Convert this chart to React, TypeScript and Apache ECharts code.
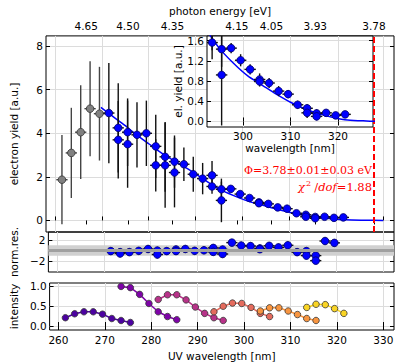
import React, { useEffect, useRef } from 'react';
import * as echarts from 'echarts';

// ---------- data ----------
const HC = 1240; // eV nm
const energyTicks = [4.65, 4.5, 4.35, 4.15, 4.05, 3.93, 3.78];
const workFunction = 3.78;
const wlTicks = [260, 270, 280, 290, 300, 310, 320, 330];
const yieldTicks = [0, 2, 4, 6, 8];
const resTicks = [-2, 0, 2];
const intTicks = [0, 0.5, 1.0];
const insetWlTicks = [300, 310, 320];
const insetYieldTicks = [0, 0.4, 0.8, 1.2, 1.6];

const excludedWl = [261.5, 263.5, 265.5, 267.5, 269.5];
const excludedYield = [1.87, 3.1, 4.05, 5.13, 4.9];
const excludedErr = [2.05, 2.07, 2.15, 2.18, 2.15];

const fittedWl = [271.5, 273.5, 273.5, 275.5, 275.5, 277.5, 279.5, 281.5, 281.5, 283.5, 283.5, 285.5, 285.5, 287.5, 289.5, 291.5, 293.5, 293.5, 295.5, 295.5, 297.5, 299.5, 301.5, 303.5, 303.5, 305.5, 307.5, 309.5, 311.5, 313.5, 313.5, 315.5, 315.5, 317.5, 319.5, 321.5];
const fittedYield = [4.93, 4.25, 3.7, 4.05, 3.5, 3.93, 4.0, 3.4, 2.53, 2.92, 2.53, 2.7, 2.2, 2.58, 2.12, 1.92, 2.07, 1.56, 1.43, 0.92, 1.45, 1.21, 1.03, 0.83, 0.79, 0.76, 0.6, 0.54, 0.33, 0.26, 0.17, 0.16, 0.1, 0.17, 0.12, 0.14];
const fittedErr = [2.3, 2.05, 1.78, 1.55, 2.0, 1.5, 1.5, 1.45, 1.2, 1.6, 1.95, 1.2, 1.6, 0.77, 0.8, 0.72, 0.66, 0.33, 0.35, 1.0, 0.1, 0.12, 0.1, 0.12, 0.1, 0.1, 0.1, 0.08, 0.08, 0.08, 0.1, 0.08, 0.08, 0.05, 0.04, 0.04];
const wlHalfWidth = 1.2;

const fitWl = [269.8, 272, 275, 277, 280, 283, 286, 289, 292, 295, 298, 301, 304, 307, 310, 313, 316, 319, 322, 326, 330];
const fitYield = [5.19, 4.83, 4.35, 4.0, 3.52, 3.05, 2.66, 2.28, 1.85, 1.45, 1.15, 0.9, 0.72, 0.54, 0.38, 0.25, 0.15, 0.08, 0.03, 0.01, 0.0];

const residualWl = [271.5, 273.5, 273.5, 275.5, 277.5, 279.5, 281.5, 281.5, 283.5, 285.5, 285.5, 287.5, 289.5, 291.5, 293.5, 293.5, 295.5, 295.5, 297.5, 299.5, 301.5, 303.5, 303.5, 305.5, 307.5, 309.5, 311.5, 313.5, 313.5, 315.5, 315.5, 317.5, 319.5];
const residualVal = [-0.1, -0.3, -0.55, -0.3, -0.05, 0.3, 0.0, -0.75, -0.1, 0.2, -0.1, 0.3, -0.05, 0.05, 0.5, -0.25, 0.2, -0.65, 1.5, 0.95, 0.85, 0.4, 0.25, 0.9, 0.6, 1.0, -0.3, -0.1, -0.95, -0.95, -1.9, 1.8, 1.45];
const residualErr = 0.7;

const scan1Wl = [261.5, 263.5, 265.5, 267.5, 269.5, 271.5, 273.5, 275.5];
const scan1Int = [0.21, 0.31, 0.36, 0.36, 0.3, 0.19, 0.14, 0.09];
const scan2Wl = [273.5, 275.5, 277.5, 279.5, 281.5, 283.5, 285.5];
const scan2Int = [1.0, 0.97, 0.8, 0.57, 0.36, 0.24, 0.16];
const scan3Wl = [281.5, 283.5, 285.5, 287.5, 289.5, 291.5, 293.5, 295.5];
const scan3Int = [0.67, 0.79, 0.79, 0.66, 0.48, 0.32, 0.21, 0.14];
const scan4Wl = [293.5, 295.5, 297.5, 299.5, 301.5, 303.5, 305.5];
const scan4Int = [0.36, 0.5, 0.58, 0.57, 0.47, 0.32, 0.24];
const scan5Wl = [303.5, 305.5, 307.5, 309.5, 311.5, 313.5, 315.5];
const scan5Int = [0.38, 0.46, 0.46, 0.38, 0.29, 0.19, 0.14];
const scan6Wl = [313.5, 315.5, 317.5, 319.5, 321.5];
const scan6Int = [0.47, 0.55, 0.54, 0.44, 0.32];
const scanColors = ['#4c02a1', '#7e03a8', '#b83289', '#e56b5d', '#f89540', '#f9d424'];

// ---------- styling ----------
const FONT = 'DejaVu Sans';
const tickFont = { fontFamily: FONT, fontSize: 10.5, color: '#000' };
const nameFont = { fontFamily: FONT, fontSize: 10.5, color: '#000' };
const gridLine = { color: '#dcdcdc', width: 1 };
const WL_MIN = 258.1, WL_MAX = 332.3;

const fmtNum = (d: number) => (v: number) => {
  const s = Math.abs(v).toFixed(d);
  return v < 0 ? '\u2212' + s : s;
};

function axis(kind: 'x' | 'y', gridIndex: number, min: number, max: number, ticks: number[], o: any = {}) {
  return {
    type: 'value', gridIndex, min, max,
    position: o.position,
    z: o.z ?? 0,
    axisLine: { show: false },
    axisTick: { show: true, inside: true, length: 4, customValues: ticks, lineStyle: { color: '#000', width: 1 } },
    axisLabel: {
      show: !!o.labels, customValues: ticks, formatter: o.formatter, margin: o.margin ?? 4,
      showMinLabel: true, showMaxLabel: true, hideOverlap: false, ...tickFont,
    },
    splitLine: { show: !!o.split, lineStyle: gridLine },
    name: o.name, nameLocation: 'middle', nameGap: o.nameGap, nameTextStyle: nameFont,
    silent: true,
  };
}

function clipRect(cs: any) {
  return { type: 'rect', shape: { x: cs.x, y: cs.y, width: cs.width, height: cs.height } };
}

// error bars + circular marker for each point, drawn through the axis scales
function points(xi: number, yi: number, wl: number[], val: number[], err: number[] | number,
  barColor: string, fill: string, edge: string, z: number, clip = false) {
  return {
    type: 'custom', xAxisIndex: xi, yAxisIndex: yi, z, silent: true,
    data: wl.map((w, i) => [w, val[i], wlHalfWidth, Array.isArray(err) ? err[i] : err]),
    encode: { x: 0, y: 1 },
    renderItem: (params: any, api: any) => {
      const x = api.value(0), y = api.value(1), ex = api.value(2), ey = api.value(3);
      const p = api.coord([x, y]);
      const a = api.coord([x - ex, y]), b = api.coord([x + ex, y]);
      const c = api.coord([x, y - ey]), d = api.coord([x, y + ey]);
      const style = { stroke: barColor, lineWidth: 1.4 };
      const cs = params.coordSys;
      const g: any = {
        type: 'group',
        children: [
          { type: 'line', z2: 1, shape: { x1: a[0], y1: a[1], x2: b[0], y2: b[1] }, style },
          { type: 'line', z2: 1, shape: { x1: c[0], y1: c[1], x2: d[0], y2: d[1] }, style },
          { type: 'circle', z2: 5, shape: { cx: p[0], cy: p[1], r: 3.8 }, style: { fill, stroke: edge, lineWidth: 0.8 } },
        ],
      };
      if (clip) g.clipPath = clipRect(cs);
      return g;
    },
  };
}

function scanSeries(wl: number[], val: number[], color: string) {
  return {
    type: 'line', xAxisIndex: 4, yAxisIndex: 4, z: 3, silent: true,
    symbol: 'circle', symbolSize: 6.5, showSymbol: true,
    lineStyle: { color, width: 1.5 },
    itemStyle: { color, borderColor: '#333', borderWidth: 0.8 },
    data: wl.map((w, i) => [w, val[i]]),
  };
}

export default function App() {
  const ref = useRef<HTMLDivElement>(null);
  useEffect(() => {
    const chart = echarts.init(ref.current!, undefined, { renderer: 'svg' });
    const energyWl = energyTicks.map((e) => HC / e);
    const gridBase = { show: true, borderColor: '#000', borderWidth: 1, backgroundColor: 'transparent' };
    const option: any = {
      animation: false,
      grid: [
        { ...gridBase, left: 42, top: 29, width: 352, height: 203 },
        { ...gridBase, left: 42, top: 232, width: 352, height: 40 },
        { ...gridBase, left: 42, top: 283, width: 352, height: 47 },
        { ...gridBase, left: 207, top: 36, width: 166, height: 91, backgroundColor: '#fff', z: 5 },
      ],
      xAxis: [
        axis('x', 0, WL_MIN, WL_MAX, wlTicks, { position: 'bottom', split: true }),
        axis('x', 0, WL_MIN, WL_MAX, energyWl, {
          position: 'top', labels: true, formatter: (v: number) => (HC / v).toFixed(2),
          name: 'photon energy [eV]', nameGap: 17,
        }),
        axis('x', 1, WL_MIN, WL_MAX, wlTicks, { position: 'bottom', split: true }),
        axis('x', 1, WL_MIN, WL_MAX, wlTicks, { position: 'top' }),
        axis('x', 2, WL_MIN, WL_MAX, wlTicks, {
          position: 'bottom', split: true, labels: true, formatter: fmtNum(0),
          name: 'UV wavelength [nm]', nameGap: 20,
        }),
        axis('x', 2, WL_MIN, WL_MAX, wlTicks, { position: 'top' }),
        axis('x', 3, 292.42, 327.37, insetWlTicks, {
          position: 'bottom', split: true, labels: true, formatter: fmtNum(0), z: 6, margin: 3,
          name: 'wavelength [nm]', nameGap: 15,
        }),
        axis('x', 3, 292.42, 327.37, insetWlTicks, { position: 'top', z: 6 }),
      ],
      yAxis: [
        axis('y', 0, -0.53, 8.47, yieldTicks, {
          position: 'left', split: true, labels: true, formatter: fmtNum(0), margin: 3,
          name: 'electron yield [a.u.]', nameGap: 27,
        }),
        axis('y', 0, -0.53, 8.47, yieldTicks, { position: 'right' }),
        axis('y', 1, -4.04, 3.5, resTicks, {
          position: 'left', split: true, labels: true, formatter: fmtNum(0), margin: 3,
          name: 'norm.res.', nameGap: 27,
        }),
        axis('y', 1, -4.04, 3.5, resTicks, { position: 'right' }),
        axis('y', 2, -0.1, 1.087, intTicks, {
          position: 'left', split: true, labels: true, formatter: fmtNum(1), margin: 3,
          name: 'intensity', nameGap: 27,
        }),
        axis('y', 2, -0.1, 1.087, intTicks, { position: 'right' }),
        axis('y', 3, -0.11, 1.69, insetYieldTicks, {
          position: 'left', split: true, labels: true, formatter: fmtNum(1), z: 6, margin: 3,
          name: 'el. yield [a.u.]', nameGap: 21,
        }),
        axis('y', 3, -0.11, 1.69, insetYieldTicks, { position: 'right', z: 6 }),
      ],
      series: [
        // main panel
        {
          type: 'line', xAxisIndex: 0, yAxisIndex: 0, data: [], z: 2, silent: true,
          markLine: {
            silent: true, symbol: 'none', label: { show: false },
            lineStyle: { color: '#ff0000', type: [6, 3], width: 2 },
            data: [{ xAxis: HC / workFunction }],
          },
        },
        points(0, 0, excludedWl, excludedYield, excludedErr, '#444444', '#808080', '#333333', 3),
        {
          type: 'line', xAxisIndex: 0, yAxisIndex: 0, z: 3, silent: true, smooth: 0.3,
          showSymbol: false, lineStyle: { color: '#0000ff', width: 1.5 },
          data: fitWl.map((w, i) => [w, fitYield[i]]),
        },
        points(0, 0, fittedWl, fittedYield, fittedErr, '#111111', '#0000ff', '#000066', 4),
        // inset
        {
          type: 'line', xAxisIndex: 6, yAxisIndex: 6, z: 7, silent: true, smooth: 0.3, clip: true,
          showSymbol: false, lineStyle: { color: '#0000ff', width: 1.5 },
          data: fitWl.map((w, i) => [w, fitYield[i]]),
        },
        points(6, 6, fittedWl, fittedYield, fittedErr, '#111111', '#0000ff', '#000066', 8, true),
        // residuals
        {
          type: 'line', xAxisIndex: 2, yAxisIndex: 2, data: [], z: 1, silent: true,
          markArea: {
            silent: true, itemStyle: { color: '#d0d0d0' },
            data: [[{ yAxis: -1 }, { yAxis: 1 }]],
          },
          markLine: {
            silent: true, symbol: 'none', label: { show: false },
            lineStyle: { color: '#a0a0a0', width: 3, type: 'solid' },
            data: [{ yAxis: 0 }],
          },
        },
        points(2, 2, residualWl, residualVal, residualErr, '#111111', '#0000ff', '#000066', 3),
        // intensity scans
        scanSeries(scan1Wl, scan1Int, scanColors[0]),
        scanSeries(scan2Wl, scan2Int, scanColors[1]),
        scanSeries(scan3Wl, scan3Int, scanColors[2]),
        scanSeries(scan4Wl, scan4Int, scanColors[3]),
        scanSeries(scan5Wl, scan5Int, scanColors[4]),
        scanSeries(scan6Wl, scan6Int, scanColors[5]),
      ],
      graphic: [
        {
          type: 'text', x: 372, y: 170, z: 20, silent: true,
          style: {
            text: '\u03A6=3.78\u00B10.01\u00B10.03 eV',
            fill: '#ff0000', fontFamily: 'DejaVu Serif', fontSize: 11,
            align: 'right', verticalAlign: 'middle',
          },
        },
        {
          type: 'text', x: 372, y: 187, z: 20, silent: true,
          style: {
            text: '{i|\u03C7}{s|2}{n|\u2009/}{i|dof}{n|=1.88}',
            fill: '#ff0000', align: 'right', verticalAlign: 'middle',
            rich: {
              i: { fontFamily: 'DejaVu Serif', fontSize: 11.5, fontStyle: 'italic', fill: '#ff0000' },
              n: { fontFamily: 'DejaVu Serif', fontSize: 11.5, fill: '#ff0000' },
              s: { fontFamily: 'DejaVu Serif', fontSize: 8, fill: '#ff0000', padding: [0, 1, 8, 1] },
            },
          },
        },
      ],
    };
    chart.setOption(option);
    return () => chart.dispose();
  }, []);
  return <div ref={ref} style={{ position: 'fixed', left: 0, top: 0, width: 415, height: 363, background: '#fff' }} />;
}
